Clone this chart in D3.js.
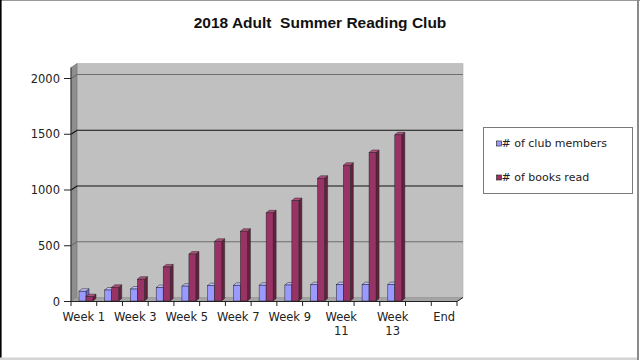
<!DOCTYPE html>
<html>
<head>
<meta charset="utf-8">
<script src="https://cdn.jsdelivr.net/npm/d3@7"></script>
<style>
  body { margin: 0; background: #fff; }
  svg { display: block; }
</style>
</head>
<body>
<div id="d3-container"></div>
<script>
/**
 * DATA
 * */
const categories = ["Week 1", "Week 2", "Week 3", "Week 4", "Week 5", "Week 6", "Week 7",
  "Week 8", "Week 9", "Week 10", "Week 11", "Week 12", "Week 13", "Week 14", "End"];
const shownLabels = ["Week 1", "Week 3", "Week 5", "Week 7", "Week 9", "Week 11", "Week 13", "End"];
const clubMembers = [92, 103, 112, 125, 138, 142, 145, 146, 148, 150, 151, 151, 152];
const booksRead = [43, 127, 200, 310, 425, 540, 630, 795, 905, 1105, 1222, 1336, 1495];
const yTicks = [0, 500, 1000, 1500, 2000];
const seriesNames = ["# of club members", "# of books read"];

/**
 * CONSTANTS
 * */
const width = 640, height = 360;
const depth = { dx: 6, dy: -4 };      // wall / floor depth
const barDepth = { dx: 3, dy: -2.5 }; // depth of each column
const colors = [
  { front: "#9999ff", side: "#6a6acc", top: "#bdbdff" },
  { front: "#993366", side: "#66203f", top: "#b5507f" }
];

let svg;

init();

function init() {
  svg = d3.select("#d3-container")
    .append("svg")
    .attr("width", width)
    .attr("height", height);

  // page frame
  svg.append("rect").attr("width", width).attr("height", height).attr("fill", "#fff");
  svg.append("line").attr("x1", 0).attr("x2", width).attr("y1", 0.5).attr("y2", 0.5)
    .attr("stroke", "#999");
  svg.append("line").attr("x1", 0.8).attr("x2", 0.8).attr("y1", 0).attr("y2", height)
    .attr("stroke", "#000").attr("stroke-width", 1.6);
  svg.append("line").attr("x1", 638).attr("x2", 638).attr("y1", 0).attr("y2", height)
    .attr("stroke", "#8a8a8a").attr("stroke-width", 2);
  svg.append("rect").attr("x", 0).attr("y", 357.5).attr("width", 637).attr("height", 2.5)
    .attr("fill", "#d4d4d4");

  const x = d3.scaleBand()
    .domain(categories)
    .range([71, 457])
    .padding(0);

  const y = d3.scaleLinear()
    .domain([0, 2000])
    .range([301.5, 78.5]);

  const x0 = x.range()[0], x1 = x.range()[1];
  const yBase = y(0), yTop = y(2000) - 11;

  // back wall
  svg.append("polygon")
    .attr("points", [[x0 + depth.dx, yBase + depth.dy], [x1 + depth.dx, yBase + depth.dy],
      [x1 + depth.dx, yTop + depth.dy], [x0 + depth.dx, yTop + depth.dy]].join(" "))
    .attr("fill", "#c0c0c0")
    .attr("stroke", "#b0b0b0").attr("stroke-width", 0.6);

  // side wall
  svg.append("polygon")
    .attr("points", [[x0, yBase], [x0 + depth.dx, yBase + depth.dy],
      [x0 + depth.dx, yTop + depth.dy], [x0, yTop]].join(" "))
    .attr("fill", "#8e8e8e")
    .attr("stroke", "#777").attr("stroke-width", 0.6);

  // floor
  svg.append("polygon")
    .attr("points", [[x0, yBase], [x1, yBase], [x1 + depth.dx, yBase + depth.dy],
      [x0 + depth.dx, yBase + depth.dy]].join(" "))
    .attr("fill", "#a4a4a4")
    .attr("stroke", "#888").attr("stroke-width", 0.5);

  // gridlines on back and side wall
  const gridColor = { 500: "#6e6e6e", 1000: "#111", 1500: "#111", 2000: "#6e6e6e" };
  yTicks.filter(d => d > 0).forEach(v => {
    svg.append("polyline")
      .attr("points", [[x0, y(v)], [x0 + depth.dx, y(v) + depth.dy], [x1 + depth.dx, y(v) + depth.dy]].join(" "))
      .attr("fill", "none")
      .attr("stroke", gridColor[v])
      .attr("stroke-width", 1.2);
  });

  // y axis
  svg.append("line")
    .attr("x1", x0).attr("x2", x0).attr("y1", yBase).attr("y2", yTop)
    .attr("stroke", "#333");
  svg.selectAll("line.ytick")
    .data(yTicks)
    .join("line")
    .attr("class", "ytick")
    .attr("x1", 64).attr("x2", x0)
    .attr("y1", d => y(d)).attr("y2", d => y(d))
    .attr("stroke", "#222");
  svg.selectAll("text.ylabel")
    .data(yTicks)
    .join("text")
    .attr("class", "ylabel")
    .attr("x", 60)
    .attr("y", d => y(d) + 4)
    .attr("text-anchor", "end")
    .attr("font-family", "DejaVu Sans, sans-serif")
    .attr("font-size", 11.5)
    .attr("fill", "#222")
    .text(d => d);

  // x axis
  svg.append("line")
    .attr("x1", x0).attr("x2", x1).attr("y1", yBase).attr("y2", yBase)
    .attr("stroke", "#222");
  svg.append("line")
    .attr("x1", x1).attr("x2", x1 + depth.dx).attr("y1", yBase).attr("y2", yBase + depth.dy)
    .attr("stroke", "#222");
  svg.selectAll("line.xtick")
    .data(categories.concat(["__end"]))
    .join("line")
    .attr("class", "xtick")
    .attr("x1", (d, i) => x0 + i * x.step())
    .attr("x2", (d, i) => x0 + i * x.step())
    .attr("y1", yBase).attr("y2", yBase + 4.5)
    .attr("stroke", "#222");

  const xLabels = svg.selectAll("text.xlabel")
    .data(categories.filter(c => shownLabels.includes(c)))
    .join("text")
    .attr("class", "xlabel")
    .attr("x", d => x(d) + x.bandwidth() / 2)
    .attr("y", 320.5)
    .attr("text-anchor", "middle")
    .attr("font-family", "DejaVu Sans, sans-serif")
    .attr("font-size", 11.5)
    .attr("fill", "#222");
  // long labels wrap onto two lines
  xLabels.each(function(d) {
    const words = d.length > 6 ? d.split(" ") : [d];
    d3.select(this).selectAll("tspan")
      .data(words)
      .join("tspan")
      .attr("x", x(d) + x.bandwidth() / 2)
      .attr("dy", (w, i) => i === 0 ? 0 : 14.5)
      .text(w => w);
  });

  // 3d columns
  const barW = 7;
  const series = [clubMembers, booksRead];
  series.forEach((values, s) => {
    const g = svg.append("g").attr("class", "series-" + s);
    values.forEach((v, i) => {
      const left = x(categories[i]) + 8 + s * barW;
      const right = left + barW;
      const top = y(v), bottom = yBase - 0.5;
      const bdx = barDepth.dx, bdy = barDepth.dy;
      g.append("polygon")
        .attr("points", [[right, bottom], [right + bdx, bottom + bdy], [right + bdx, top + bdy], [right, top]].join(" "))
        .attr("fill", colors[s].side)
        .attr("stroke", "#222").attr("stroke-width", 0.5);
      g.append("polygon")
        .attr("points", [[left, top], [right, top], [right + bdx, top + bdy], [left + bdx, top + bdy]].join(" "))
        .attr("fill", colors[s].top)
        .attr("stroke", "#222").attr("stroke-width", 0.5);
      g.append("rect")
        .attr("x", left).attr("y", top)
        .attr("width", barW).attr("height", bottom - top)
        .attr("fill", colors[s].front)
        .attr("stroke", "#222").attr("stroke-width", 0.5);
    });
  });

  // title
  svg.append("text")
    .attr("x", 320)
    .attr("y", 27.5)
    .attr("text-anchor", "middle")
    .attr("font-family", "Liberation Sans, Arial, sans-serif")
    .attr("font-weight", "bold")
    .attr("font-size", 15.5)
    .attr("fill", "#111")
    .style("white-space", "pre")
    .text("2018 Adult  Summer Reading Club");

  // legend
  const legend = svg.append("g").attr("transform", "translate(483.5,127.5)");
  legend.append("rect")
    .attr("width", 149).attr("height", 66)
    .attr("fill", "#fff")
    .attr("stroke", "#7a7a7a");
  const items = legend.selectAll("g.item")
    .data(seriesNames)
    .join("g")
    .attr("class", "item")
    .attr("transform", (d, i) => `translate(13,${19 + i * 34})`);
  items.append("rect")
    .attr("x", 0).attr("y", -5.5)
    .attr("width", 5).attr("height", 5)
    .attr("fill", (d, i) => colors[i].front)
    .attr("stroke", "#333").attr("stroke-width", 0.7);
  items.append("text")
    .attr("x", 5)
    .attr("y", 0)
    .attr("font-family", "DejaVu Sans, sans-serif")
    .attr("font-size", 11)
    .attr("fill", "#222")
    .text(d => d);
}
</script>
</body>
</html>
